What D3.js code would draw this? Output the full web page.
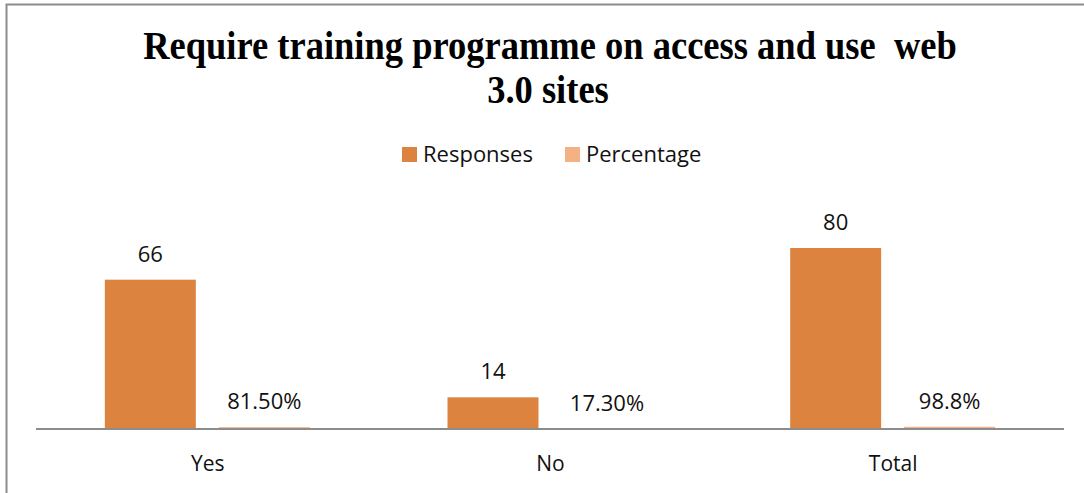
<!DOCTYPE html>
<html>
<head>
<meta charset="utf-8">
<script src="https://cdn.jsdelivr.net/npm/d3@7"></script>
<style>
  html, body { margin: 0; padding: 0; background: #fff; }
  svg { display: block; }
</style>
</head>
<body>
<svg id="chart" width="1084" height="493"></svg>
<script>
// Survey results: need for a training programme on web 3.0 sites
const categories = ["Yes", "No", "Total"];
const seriesNames = ["Responses", "Percentage"];
const responses = [66, 14, 80];
const percentage = [0.815, 0.173, 0.988];
const percentLabels = ["81.50%", "17.30%", "98.8%"];
const titleLines = ["Require training programme on access and use  web", "3.0 sites"];
const colors = ["#DC843F", "#F4B183"];

const W = 1084, H = 493;
const svg = d3.select("#chart");
const sansFont = "'Open Sans', 'Noto Sans', sans-serif";

// Chart frame (left and top edges visible)
svg.append("rect")
  .attr("x", 6.5).attr("y", 4.5)
  .attr("width", W + 20).attr("height", H + 20)
  .attr("fill", "none").attr("stroke", "#8c8c8c").attr("stroke-width", 2);

// Plot area
const plot = { left: 36, right: 1064, bottom: 429 };
const y = d3.scaleLinear().domain([0, 80]).range([plot.bottom, 248]);

// Category groups and bars within each group
const step = (plot.right - plot.left) / categories.length;
const groupWidth = 205;
const xGroup = c => plot.left + step * categories.indexOf(c) + (step - groupWidth) / 2;
const x1 = d3.scaleBand().domain(seriesNames).range([0, groupWidth]).paddingInner(23 / 114).paddingOuter(0);

const rows = categories.map((c, i) => ({
  cat: c,
  vals: [
    { key: "Responses", v: responses[i], label: String(responses[i]) },
    { key: "Percentage", v: percentage[i], label: percentLabels[i] }
  ]
}));

const g = svg.append("g");
const groups = g.selectAll("g.cat").data(rows).join("g")
  .attr("class", "cat")
  .attr("transform", d => `translate(${xGroup(d.cat)},0)`);

groups.selectAll("rect").data(d => d.vals).join("rect")
  .attr("x", d => x1(d.key))
  .attr("width", x1.bandwidth())
  .attr("y", d => y(d.v))
  .attr("height", d => plot.bottom - y(d.v))
  .attr("fill", (d, i) => colors[i]);

groups.selectAll("text.val").data(d => d.vals).join("text")
  .attr("class", "val")
  .attr("x", d => x1(d.key) + x1.bandwidth() / 2)
  .attr("y", d => y(d.v) - 18)
  .attr("text-anchor", "middle")
  .attr("font-family", sansFont)
  .attr("font-size", 22)
  .attr("fill", "#111")
  .text(d => d.label);

// Category axis
const xAxisScale = d3.scalePoint().domain(categories).range([plot.left + step / 2, plot.right - step / 2]);
const axisG = svg.append("g").attr("transform", `translate(0,${plot.bottom})`)
  .call(d3.axisBottom(xAxisScale).tickSize(0).tickPadding(27));
axisG.select(".domain").attr("d", `M${plot.left},0H${plot.right}`).attr("stroke", "#8c8c8c").attr("stroke-width", 2);
axisG.selectAll(".tick text").attr("font-family", sansFont).attr("font-size", 21).attr("fill", "#111");

// Legend
const legend = svg.append("g");
const legendItems = [{ name: "Responses", x: 402 }, { name: "Percentage", x: 565 }];
legendItems.forEach((it, i) => {
  legend.append("rect").attr("x", it.x).attr("y", 147).attr("width", 15).attr("height", 15).attr("fill", colors[i]);
  legend.append("text").attr("x", it.x + 21).attr("y", 162)
    .attr("font-family", sansFont).attr("font-size", 22).attr("fill", "#111").text(it.name);
});

// Title, condensed bold serif
const title = svg.append("g");
const t1 = title.append("text").attr("x", 550).attr("y", 59)
  .attr("text-anchor", "middle").attr("font-family", "'Liberation Serif', 'Times New Roman', serif")
  .attr("font-weight", "bold").attr("font-size", 40).attr("fill", "#000")
  .style("white-space", "pre").text(titleLines[0]);
const t2 = title.append("text").attr("x", 548).attr("y", 103)
  .attr("text-anchor", "middle").attr("font-family", "'Liberation Serif', 'Times New Roman', serif")
  .attr("font-weight", "bold").attr("font-size", 40).attr("fill", "#000")
  .text(titleLines[1]);
const w1 = t1.node().getComputedTextLength();
const s = 814 / w1;
t1.attr("transform", `translate(550,0) scale(${s},1) translate(-550,0)`);
t2.attr("transform", `translate(548,0) scale(${s},1) translate(-548,0)`);
</script>
</body>
</html>
